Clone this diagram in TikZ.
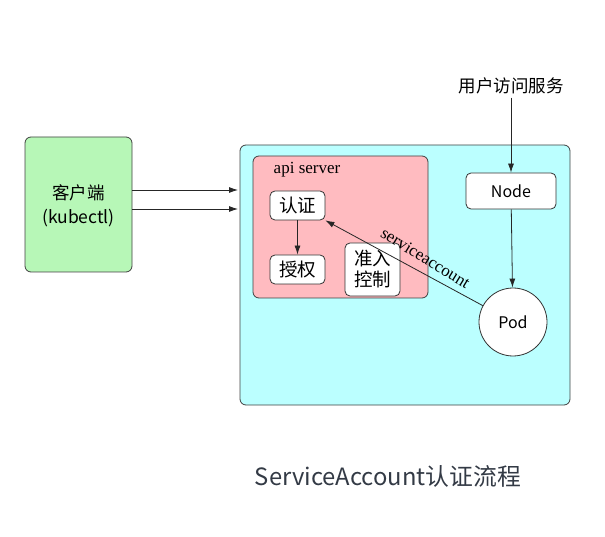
\documentclass[tikz,border=0pt]{standalone}
\usepackage{fontspec}
\usepackage{tikz}
\usetikzlibrary{arrows.meta,positioning}
\newfontfamily\cjk{Noto Sans CJK SC}
\setmainfont{Liberation Serif}
\definecolor{clientgreen}{HTML}{B7F7B7}
\definecolor{clustercyan}{HTML}{BBFFFF}
\definecolor{apipink}{HTML}{FFBBC0}
\definecolor{captiongray}{HTML}{333A45}
\tikzset{
  box/.style={draw=black!75, rounded corners=6pt, line width=0.8pt},
  smallbox/.style={draw=black!80, fill=white, rounded corners=5pt, line width=0.8pt,
    font=\cjk\fontsize{18.5}{21}\selectfont, inner sep=1pt},
  flow/.style={-{Latex[length=9pt,width=6pt]}, line width=0.8pt, black!85},
  backflow/.style={{Latex[length=9pt,width=6pt]}-, line width=0.8pt, black!85}
}
\begin{document}
\begin{tikzpicture}[x=1pt,y=-1pt]
	\useasboundingbox (0,0) rectangle (605,537);

	% boxes
	\node[box, fill=clientgreen, minimum width=107pt, minimum height=135pt] (client) at (78.5,204.5) {};
	\node[align=center, font=\cjk\fontsize{17.5}{24}\selectfont] (clienttext) at (78.5,206) {客户端\\(kubectl)};
	\node[box, fill=clustercyan, minimum width=330pt, minimum height=260pt] (cluster) at (405,275) {};
	\node[box, fill=apipink, minimum width=175pt, minimum height=142pt] (apiserver) at (340.5,227) {};
	\node[font=\fontsize{17}{19}\selectfont] (apilabel) at (307,170) {api server};

	\node[smallbox, minimum width=55pt, minimum height=29pt] (auth) at (297.5,205.5) {认证};
	\node[smallbox, minimum width=55pt, minimum height=29pt] (authz) at (297.5,269.5) {授权};
	\node[smallbox, minimum width=55pt, minimum height=53pt, align=center] (admit) at (372.5,269.5) {准入\\控制};

	\node[smallbox, minimum width=90pt, minimum height=36pt, font=\cjk\fontsize{16}{19}\selectfont] (node) at (511,191) {Node};
	\node[draw=black!80, fill=white, circle, minimum size=68pt, line width=0.8pt,
	  font=\cjk\fontsize{16}{19}\selectfont] (pod) at (513,322) {Pod};

	\node[font=\cjk\fontsize{17.5}{20}\selectfont] (user) at (511,86) {用户访问服务};
	\node[font=\cjk\fontsize{23.8}{28}\selectfont, text=captiongray] (caption) at (388,476) {ServiceAccount认证流程};
	\node[rotate=-31.5, inner sep=0pt, font=\fontsize{17}{19}\selectfont] (salabel) at (425.5,258) {serviceaccount};

	% arrows
	\coordinate (in1) at (238,190);
	\coordinate (in2) at (238,209);
	\draw[flow] (client.east |- in1) -- (in1);
	\draw[flow] (client.east |- in2) -- (in2);
	\draw[flow] (auth) -- (authz);
	\draw[flow] (user) -- (node);
	\draw[flow] (node) -- (pod);
	\draw[backflow] (auth.south east) -- (pod);
\end{tikzpicture}
\end{document}
